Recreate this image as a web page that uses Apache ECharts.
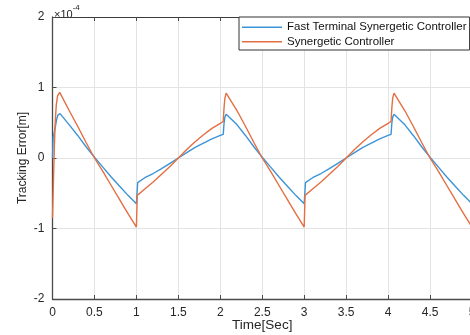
<!DOCTYPE html>
<html><head><meta charset="utf-8">
<script src="https://cdn.jsdelivr.net/npm/echarts@6/dist/echarts.min.js"></script>
<style>html,body{margin:0;padding:0;background:#fff}#c{width:470px;height:335px}</style>
</head><body><div id="c"></div>
<script>
// Tick labels
const xTickLabels = ['0','0.5','1','1.5','2','2.5','3','3.5','4','4.5','5'];
const yTickLabels = ['-2','-1','0','1','2'];
const seriesNames = ['Fast Terminal Synergetic Controller', 'Synergetic Controller'];

// Fast Terminal Synergetic Controller (values in 1e-4 m)
const ftscTime = [0,0.008,0.02,0.035,0.05,0.065,0.09,0.2,0.3,0.4,0.5,0.6,0.7,0.8,0.9,1.0,
  1.015,1.1,1.2,1.3,1.4,1.5,1.6,1.7,1.8,1.9,2.0,2.035,2.045,2.055,2.07,2.09,
  2.2,2.3,2.4,2.5,2.6,2.7,2.8,2.9,3.0,
  3.015,3.1,3.2,3.3,3.4,3.5,3.6,3.7,3.8,3.9,4.0,4.035,4.045,4.055,4.07,4.09,
  4.2,4.3,4.4,4.5,4.6,4.7,4.8,4.9,5.0];
const ftscError = [0,0.3,0.36,0.45,0.55,0.61,0.63,0.47,0.32,0.16,0.01,-0.13,-0.27,-0.4,-0.53,-0.65,
  -0.35,-0.28,-0.22,-0.15,-0.075,0,0.075,0.15,0.21,0.27,0.32,0.335,0.5,0.58,0.62,0.63,
  0.47,0.32,0.16,0.01,-0.13,-0.27,-0.4,-0.53,-0.65,
  -0.35,-0.28,-0.22,-0.15,-0.075,0,0.075,0.15,0.21,0.27,0.32,0.335,0.5,0.58,0.62,0.63,
  0.47,0.32,0.16,0.01,-0.13,-0.27,-0.4,-0.53,-0.65];

// Synergetic Controller (values in 1e-4 m)
const scTime = [0,0.012,0.022,0.032,0.045,0.06,0.086,0.2,0.3,0.4,0.5,0.6,0.7,0.8,0.9,1.0,
  1.01,1.1,1.2,1.3,1.4,1.5,1.6,1.7,1.8,1.9,2.0,2.035,2.045,2.055,2.07,2.085,
  2.2,2.3,2.4,2.5,2.6,2.7,2.8,2.9,3.0,
  3.01,3.1,3.2,3.3,3.4,3.5,3.6,3.7,3.8,3.9,4.0,4.035,4.045,4.055,4.07,4.085,
  4.2,4.3,4.4,4.5,4.6,4.7,4.8,4.9,5.0];
const scError = [-0.85,-0.3,0.15,0.5,0.75,0.88,0.93,0.67,0.45,0.22,0.0,-0.19,-0.39,-0.59,-0.79,-0.98,
  -0.53,-0.44,-0.34,-0.23,-0.12,0,0.12,0.23,0.33,0.42,0.49,0.52,0.72,0.85,0.92,0.93,
  0.67,0.45,0.22,0.0,-0.19,-0.39,-0.59,-0.79,-0.98,
  -0.53,-0.44,-0.34,-0.23,-0.12,0,0.12,0.23,0.33,0.42,0.49,0.52,0.72,0.85,0.92,0.93,
  0.67,0.45,0.22,0.0,-0.19,-0.39,-0.59,-0.79,-0.98];

const FONT = '"Liberation Sans", Arial, Helvetica, sans-serif';
const TXT = '#262626';
const pairs = (t, v) => t.map((x, i) => [x, v[i]]);
const xLab = v => { const i = Math.round(v / 0.5); return xTickLabels[i] !== undefined ? xTickLabels[i] : ''; };
const yLab = v => { const i = Math.round(v + 2); return yTickLabels[i] !== undefined ? yTickLabels[i] : ''; };

const chart = echarts.init(document.getElementById('c'), null, {renderer: 'canvas'});
const axisLine = {show: true, onZero: false, lineStyle: {color: '#4a4a4a', width: 1.3}};
chart.setOption({
  animation: false,
  backgroundColor: '#fff',
  grid: {left: 52.5, right: -2, top: 17, bottom: 36, containLabel: false, outerBoundsMode: 'none'},
  xAxis: [{
    type: 'value', min: 0, max: 5, interval: 0.5,
    name: 'Time[Sec]', nameLocation: 'middle', nameGap: 19, nameMoveOverlap: false,
    nameTextStyle: {fontFamily: FONT, fontSize: 13.5, color: TXT},
    axisLine: axisLine,
    axisTick: {show: true, inside: true, length: 4, lineStyle: {color: '#4a4a4a'}},
    axisLabel: {formatter: xLab, fontFamily: FONT, fontSize: 12, color: TXT, margin: 8, hideOverlap: false},
    splitLine: {show: true, lineStyle: {color: '#e3e3e3', width: 1}}
  }, {
    type: 'value', position: 'top', min: 0, max: 5, interval: 0.5,
    axisLine: {show: true, onZero: false, lineStyle: {color: '#3a3a3a', width: 1}},
    axisTick: {show: true, inside: true, length: 4, lineStyle: {color: '#4a4a4a'}},
    axisLabel: {show: false}, splitLine: {show: false}
  }],
  yAxis: {
    type: 'value', min: -2, max: 2, interval: 1,
    name: 'Tracking Error[m]', nameLocation: 'middle', nameGap: 24, nameRotate: 90, nameMoveOverlap: false,
    nameTextStyle: {fontFamily: FONT, fontSize: 12, color: TXT},
    axisLine: axisLine,
    axisTick: {show: true, inside: true, length: 4, lineStyle: {color: '#4a4a4a'}},
    axisLabel: {formatter: yLab, fontFamily: FONT, fontSize: 12, color: TXT, margin: 8},
    splitLine: {show: true, lineStyle: {color: '#e3e3e3', width: 1}}
  },
  legend: {
    left: 239, top: 17, orient: 'vertical', align: 'left',
    icon: 'rect', itemWidth: 40, itemHeight: 1.6, itemGap: 0, itemTextGap: 3,
    padding: [3, 3, 1, 3],
    backgroundColor: '#fff', borderColor: '#333', borderWidth: 1, borderRadius: 0,
    textStyle: {fontFamily: FONT, fontSize: 11.5, color: '#111', lineHeight: 14.5},
    data: seriesNames
  },
  graphic: [{
    type: 'text', left: 54, top: 4, silent: true,
    style: {
      text: '{a|×10}{b|-4}',
      rich: {
        a: {fontFamily: FONT, fontSize: 11, fill: TXT, verticalAlign: 'bottom', lineHeight: 16},
        b: {fontFamily: FONT, fontSize: 8, fill: TXT, verticalAlign: 'top', lineHeight: 16}
      }
    }
  }],
  series: [{
    name: seriesNames[0], type: 'line', symbol: 'none', smooth: false,
    data: pairs(ftscTime, ftscError),
    itemStyle: {color: '#3C94D6'}, lineStyle: {color: '#3C94D6', width: 1.4}
  }, {
    name: seriesNames[1], type: 'line', symbol: 'none', smooth: false,
    data: pairs(scTime, scError),
    itemStyle: {color: '#E36F42'}, lineStyle: {color: '#E36F42', width: 1.4}
  }]
});
</script>
</body></html>
